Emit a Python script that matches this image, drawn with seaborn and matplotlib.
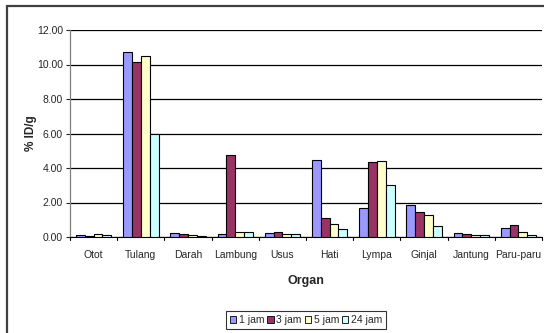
import matplotlib
matplotlib.use("Agg")
import matplotlib.pyplot as plt
from matplotlib.patches import Rectangle, Patch
import pandas as pd
import seaborn as sns

organs = ["Otot", "Tulang", "Darah", "Lambung", "Usus",
          "Hati", "Lympa", "Ginjal", "Jantung", "Paru-paru"]
times = ["1 jam", "3 jam", "5 jam", "24 jam"]
jam_1 = [0.13, 10.73, 0.24, 0.15, 0.23, 4.47, 1.71, 1.84, 0.23, 0.51]
jam_3 = [0.07, 10.13, 0.18, 4.76, 0.31, 1.12, 4.35, 1.45, 0.18, 0.70]
jam_5 = [0.18, 10.47, 0.13, 0.31, 0.15, 0.76, 4.41, 1.29, 0.10, 0.29]
jam_24 = [0.13, 6.00, 0.07, 0.31, 0.15, 0.45, 3.00, 0.62, 0.10, 0.10]
colors = ["#9999FF", "#993366", "#FFFFCC", "#CCFFFF"]

df = pd.DataFrame({
    "Organ": organs * 4,
    "waktu": [t for t in times for _ in organs],
    "nilai": jam_1 + jam_3 + jam_5 + jam_24,
})

sns.set_style("white")
plt.rcParams["font.family"] = ["Liberation Sans", "DejaVu Sans"]

W, H = 544, 333
fig = plt.figure(figsize=(W / 100, H / 100), dpi=100)
ax = fig.add_axes([70 / W, 1 - 237 / H, 472 / W, (237 - 30) / H])

sns.barplot(data=df, x="Organ", y="nilai", hue="waktu", order=organs,
            hue_order=times, palette=colors, width=0.75, edgecolor="black",
            linewidth=0.8, saturation=1, ax=ax, legend=False, zorder=3)

ax.set_ylim(0, 12)
ax.set_xlim(-0.5, len(organs) - 0.5)
ax.set_yticks(range(0, 13, 2))
ax.set_yticklabels([f"{v:.2f}" for v in range(0, 13, 2)], fontsize=7.5)
ax.tick_params(axis="x", length=0, labelsize=7.5, pad=9)
ax.tick_params(axis="y", left=True, length=3, width=0.8, pad=2)
for x in range(len(organs) + 1):
    ax.plot([x - 0.5, x - 0.5], [0, -0.2], color="black", lw=0.8,
            clip_on=False)
ax.yaxis.grid(True, color="black", lw=0.9)
ax.set_axisbelow(True)
for s in ["top", "right"]:
    ax.spines[s].set_visible(False)
ax.spines["left"].set_color("#808080")
ax.spines["bottom"].set_color("black")
ax.spines["left"].set_linewidth(0.9)

ax.set_xlabel("Organ", fontsize=9, fontweight="bold", labelpad=11)
ax.set_ylabel("% ID/g", fontsize=8.5, fontweight="bold", labelpad=0)

handles = [Patch(facecolor=c, edgecolor="black", lw=0.6, label=t)
           for c, t in zip(colors, times)]
leg = fig.legend(handles=handles, loc="center", ncol=4,
                 bbox_to_anchor=(306 / W, 1 - 320 / H), fontsize=7.5,
                 frameon=True, fancybox=False, handlelength=0.6,
                 handleheight=0.6, handletextpad=0.25, columnspacing=0.3,
                 borderpad=0.35, borderaxespad=0)
leg.get_frame().set_edgecolor("black")
leg.get_frame().set_linewidth(0.8)

fig.patches.append(Rectangle((7 / W, -0.1), 1.2, 1.1 - 6 / H,
                             transform=fig.transFigure, fill=False,
                             edgecolor="#404040", lw=1.6))

fig.savefig("out.png", dpi=100)
